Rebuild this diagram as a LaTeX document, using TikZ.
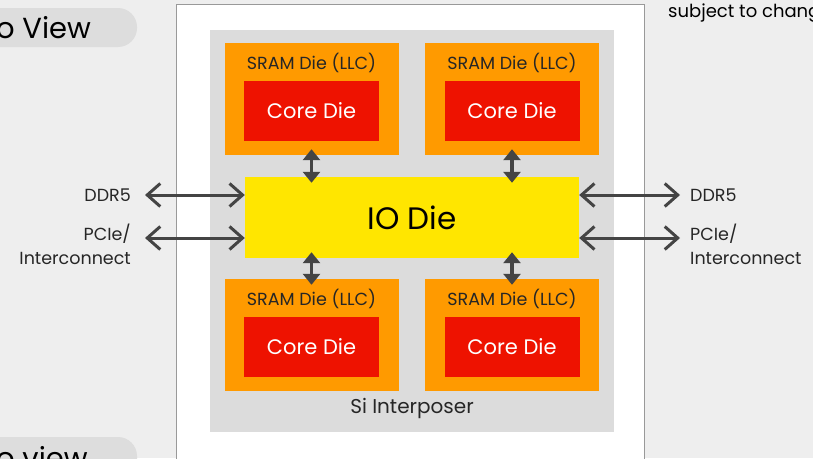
\documentclass[tikz,border=0pt]{standalone}
\usepackage{fontspec}
\setmainfont{Poppins}
\usetikzlibrary{arrows.meta}
\definecolor{pagegray}{HTML}{EEEEEE}
\definecolor{pillgray}{HTML}{DDDDDD}
\definecolor{interposer}{HTML}{DCDCDC}
\definecolor{sramorange}{HTML}{FF9A00}
\definecolor{corered}{HTML}{EE1200}
\definecolor{ioyellow}{HTML}{FFE600}
\definecolor{wire}{HTML}{444444}
\tikzset{
	srambox/.style={fill=sramorange,inner sep=0pt,minimum width=174pt,minimum height=112pt},
	corebox/.style={fill=corered,text=white,inner sep=0pt,minimum width=135pt,minimum height=60pt,font=\fontsize{21}{26}\selectfont},
	lab/.style={text=black!85,inner sep=0pt,font=\fontsize{17.5}{24}\selectfont},
	bus/.style={wire,line width=3pt,{Straight Barb[length=13pt,width=23pt,line width=3pt]}-{Straight Barb[length=13pt,width=23pt,line width=3pt]}},
	link/.style={wire,line width=3.5pt,shorten <=-6pt,shorten >=-6pt,{Triangle[length=11pt,width=17pt]}-{Triangle[length=11pt,width=17pt]}}
}
% one SRAM die stacked on top of a core die, #2,#3 = centre of the SRAM die
\newcommand{\chiplet}[3]{\node[srambox](sram#1) at (#2,#3) {};\node[lab](lab#1) at (#2,#3-36) {SRAM Die (LLC)};\node[corebox](core#1) at (#2,#3+12) {Core Die};}

\begin{document}
\begin{tikzpicture}[x=1pt,y=-1pt]
	\useasboundingbox (0,0) rectangle (813,458);
	\clip (0,0) rectangle (813,458);
	\fill[pagegray] (0,0) rectangle (813,458);

	% headings that run off the page
	\fill[pillgray,rounded corners=19pt] (-60,8) rectangle (137,47);
	\node[anchor=base west,inner sep=0pt,font=\fontsize{29}{32}\selectfont] (topview) at (-4,38) {o View};
	\fill[pillgray,rounded corners=19pt] (-60,437) rectangle (137,500);
	\node[anchor=base west,inner sep=0pt,font=\fontsize{29}{32}\selectfont] (sideview) at (-4,468) {o view};
	\node[anchor=base west,inner sep=0pt,font=\fontsize{18}{20}\selectfont] (note) at (668,17) {subject to change};

	% package and interposer
	\draw[fill=white,draw=black!40] (176,4) rectangle (644,470);
	\fill[interposer] (210,30) rectangle (614,432);
	\node[lab,font=\fontsize{20}{24}\selectfont] (si) at (412,408) {Si Interposer};

	\chiplet{a}{311.5}{99}
	\chiplet{b}{512}{99}
	\chiplet{c}{311.5}{335}
	\chiplet{d}{512}{335}

	\node[fill=ioyellow,inner sep=0pt,minimum width=334pt,minimum height=81pt,font=\fontsize{31}{34}\selectfont] (io) at (412,217.5) {IO Die};

	\draw[link] (srama.south) to (srama.south |- io.north);
	\draw[link] (sramb.south) to (sramb.south |- io.north);
	\draw[link] (sramc.north) to (sramc.north |- io.south);
	\draw[link] (sramd.north) to (sramd.north |- io.south);

	% off-package links
	\coordinate (ddrL) at (145,195);
	\coordinate (pcieL) at (145,238);
	\coordinate (ddrR) at (680,195);
	\coordinate (pcieR) at (680,238);
	\draw[bus] (ddrL) to (ddrL -| io.west);
	\draw[bus] (pcieL) to (pcieL -| io.west);
	\draw[bus] (io.east |- ddrR) to (ddrR);
	\draw[bus] (io.east |- pcieR) to (pcieR);

	\node[lab,anchor=east] (ddrLlab) at (131,195) {DDR5};
	\node[lab,anchor=north east,align=right] (pcieLlab) at (131,224) {PCIe/\\Interconnect};
	\node[lab,anchor=west] (ddrRlab) at (690,195) {DDR5};
	\node[lab,anchor=north west,align=left] (pcieRlab) at (690,224) {PCIe/\\Interconnect};
\end{tikzpicture}
\end{document}
